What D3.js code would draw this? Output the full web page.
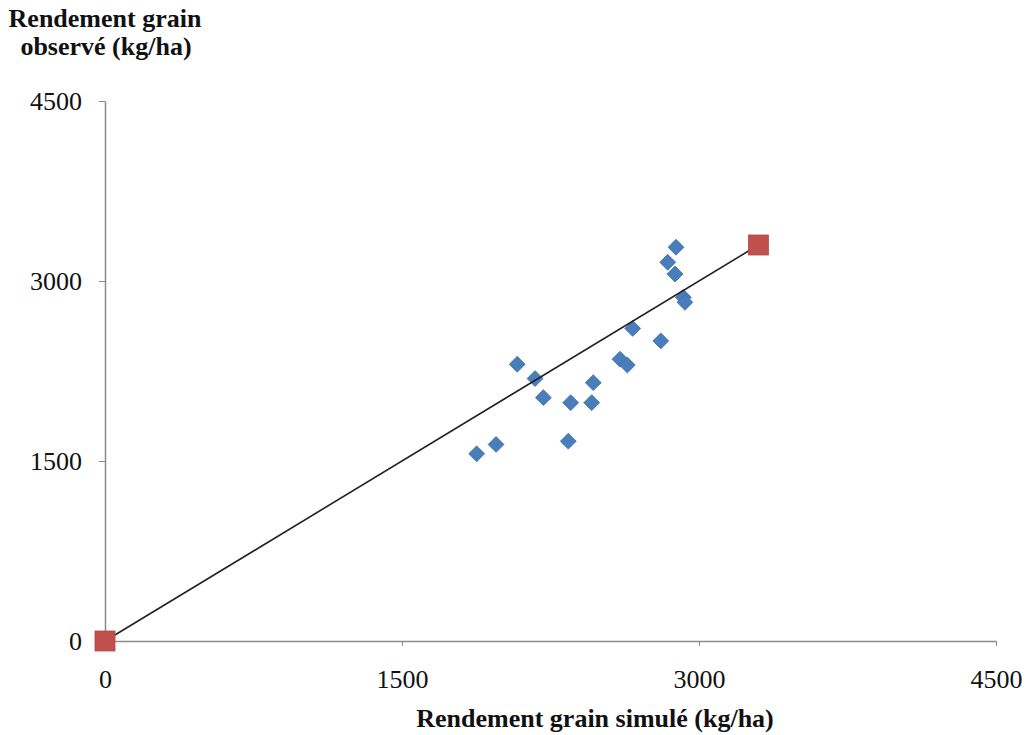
<!DOCTYPE html>
<html><head><meta charset="utf-8">
<script src="https://cdn.jsdelivr.net/npm/d3@7"></script>
<style>
html,body{margin:0;padding:0;background:#fff;}
text{font-family:"Liberation Serif","Times New Roman",serif;fill:#111;}
</style></head>
<body><svg id="c" width="1027" height="735"></svg>
<script>
// Data
const simulated = [2884,2842,2879,2921,2929,2665,2807,2601,2638,2082,2172,2466,2214,2352,2458,2340,1975,1877];
const observed  = [3281,3156,3058,2864,2822,2605,2501,2348,2300,2306,2187,2153,2028,1986,1986,1665,1638,1560];
const lineX = [0, 3300];
const lineY = [0, 3300];
const ticks = [0, 1500, 3000, 4500];
const xTitle = "Rendement grain simulé (kg/ha)";
const yTitle = ["Rendement grain", "observé (kg/ha)"];

const svg = d3.select("#c");
const x = d3.scaleLinear().domain([0,4500]).range([105,996]);
const y = d3.scaleLinear().domain([0,4500]).range([641,101]);

const axisColor = "#8a8a8a";
// x axis
const gx = svg.append("g").attr("transform",`translate(0,${y(0)})`)
  .call(d3.axisBottom(x).tickValues(ticks).tickSize(5).tickSizeOuter(0).tickPadding(24).tickFormat(d3.format("d")));
gx.select(".domain").attr("stroke",axisColor).attr("stroke-width",1.5);
gx.selectAll(".tick line").attr("stroke",axisColor);
gx.selectAll(".tick text").attr("font-size",26).attr("font-family","Liberation Serif").attr("fill","#111");
// y axis
const gy = svg.append("g").attr("transform",`translate(${x(0)},0)`)
  .call(d3.axisLeft(y).tickValues(ticks).tickSize(6).tickSizeOuter(0).tickPadding(17).tickFormat(d3.format("d")));
gy.select(".domain").attr("stroke",axisColor).attr("stroke-width",1.5);
gy.selectAll(".tick line").attr("stroke",axisColor);
gy.selectAll(".tick text").attr("font-size",26).attr("font-family","Liberation Serif").attr("fill","#111");

// diamonds
const pts = simulated.map((v,i)=>({x:v,y:observed[i]}));
svg.append("g").selectAll("rect").data(pts).join("rect")
  .attr("x",-5.6).attr("y",-5.6).attr("width",11.2).attr("height",11.2)
  .attr("transform",d=>`translate(${x(d.x)},${y(d.y)}) rotate(45)`)
  .attr("fill","#4a7ebb").attr("stroke","#3f6fa8").attr("stroke-width",0.8);

// 1:1 line
const lp = lineX.map((v,i)=>[x(v),y(lineY[i])]);
svg.append("path").attr("d",d3.line()(lp)).attr("stroke","#222").attr("stroke-width",1.6).attr("fill","none");

// red squares
svg.append("g").selectAll("rect").data(lineX.map((v,i)=>({x:v,y:lineY[i]}))).join("rect")
  .attr("x",d=>x(d.x)-10).attr("y",d=>y(d.y)-10).attr("width",20).attr("height",20)
  .attr("fill","#c0504d").attr("stroke","#b04a47").attr("stroke-width",0.8);

// titles
svg.append("text").attr("x",595).attr("y",727).attr("text-anchor","middle")
  .attr("font-size",26).attr("font-weight","bold").text(xTitle);
svg.append("text").attr("x",105).attr("y",27).attr("text-anchor","middle")
  .attr("font-size",26).attr("font-weight","bold").text(yTitle[0]);
svg.append("text").attr("x",106).attr("y",55).attr("text-anchor","middle")
  .attr("font-size",26).attr("font-weight","bold").text(yTitle[1]);
</script></body></html>
